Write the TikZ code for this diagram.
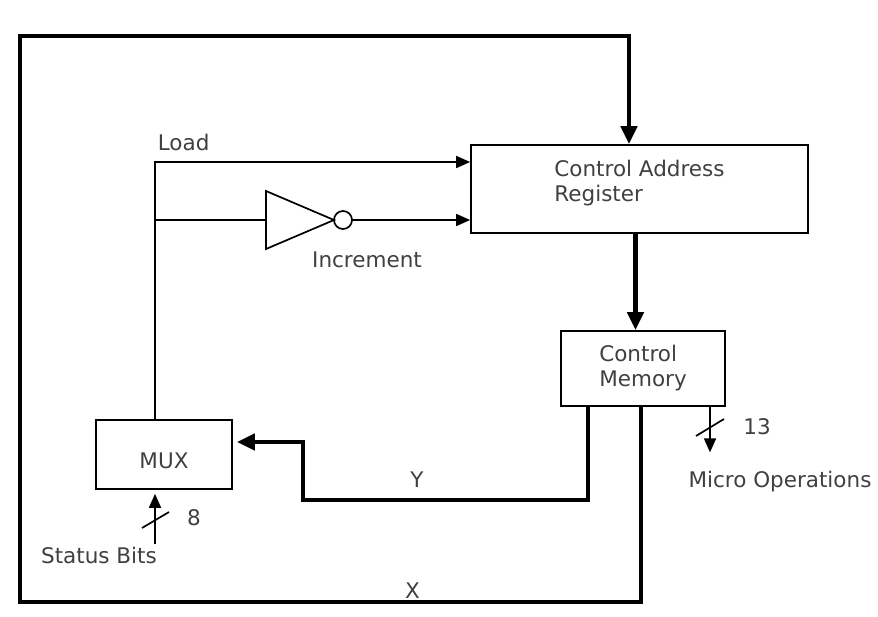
\documentclass[tikz,border=0pt]{standalone}
\usepackage{fontspec}
\setmainfont{DejaVu Sans}
\usetikzlibrary{arrows.meta,shapes.geometric,positioning}

\begin{document}
\begin{tikzpicture}[
    x=1pt, y=-1pt,
    block/.style={draw, line width=1.7pt, inner sep=0pt, align=left, text=black!75, font=\fontsize{21.5}{25}\selectfont},
    lbl/.style={inner sep=2pt, text=black!75, font=\fontsize{21.5}{25}\selectfont},
    wire/.style={line width=1.7pt},
    bus/.style={line width=4.8pt},
    arr/.style={-{Triangle[length=14pt,width=12pt]}},
    busarr/.style={-{Triangle[length=18pt,width=16pt]}},
    notgate/.style={draw, line width=1.7pt, shape=isosceles triangle, isosceles triangle stretches, minimum width=58pt, minimum height=68pt, inner sep=0pt, outer sep=0pt},
    bubble/.style={draw, line width=1.7pt, circle, minimum size=18pt, inner sep=0pt, outer sep=0pt}
]
\useasboundingbox (0,0) rectangle (878,616);

\node[block, minimum width=337pt, minimum height=88pt, text depth=16pt] (car) at (639.5,189) {Control Address\\Register};
\node[block, minimum width=164pt, minimum height=75pt] (cm) at (643,368.5) {Control\\Memory};
\node[block, minimum width=136pt, minimum height=69pt, text height=28pt] (mux) at (164,454.5) {MUX};
\node[notgate, anchor=west] (inv) at (266,220) {};
\node[bubble, anchor=west] (bub) at (inv.apex) {};

\node[lbl] (inclbl) at (367,260) {Increment};
\node[lbl] (micro) at (780,482) {Micro Operations};
\node[lbl] (n13) at (757,427) {13};
\node[lbl] (status) at (99,555) {Status Bits};
\node[lbl] (n8) at (194,518) {8};

\draw[bus, busarr] ([xshift=-2pt]cm.south) |- node[lbl, pos=0.684, above, inner sep=1pt] (xlbl) {X} (20,602) -- (20,36) -| ([xshift=-10.5pt]car.north);
\draw[bus, busarr] ([xshift=-4pt]car.south) -- ([xshift=-4pt]car.south |- cm.north);
\draw[bus, busarr, shorten >=4pt] ([xshift=-55pt]cm.south) |- node[lbl, pos=0.8, above=8pt] (ylbl) {Y} (303,500) |- ([yshift=12.5pt]mux.east);

\draw[wire, arr] ([xshift=-9pt]mux.north) |- node[lbl, pos=0.5, anchor=south west, inner sep=0pt, xshift=2pt, yshift=10pt] (loadlbl) {Load} ([yshift=27pt]car.west);
\draw[wire] ([xshift=-9pt]mux.north |- inv.west) -- (inv.west);
\draw[wire, arr] (bub.east) -- (bub.east -| car.west);

\draw[wire, arr, shorten >=17pt] ([xshift=67pt]cm.south) -- ([xshift=67pt]cm.south |- micro.north);
\draw[wire] (696,436) -- (724,419);
\draw[wire, arr, shorten >=4pt] ([xshift=-9pt]mux.south |- status.north) -- ([xshift=-9pt]mux.south);
\draw[wire] (142,528) -- (169,512);
\end{tikzpicture}
\end{document}
